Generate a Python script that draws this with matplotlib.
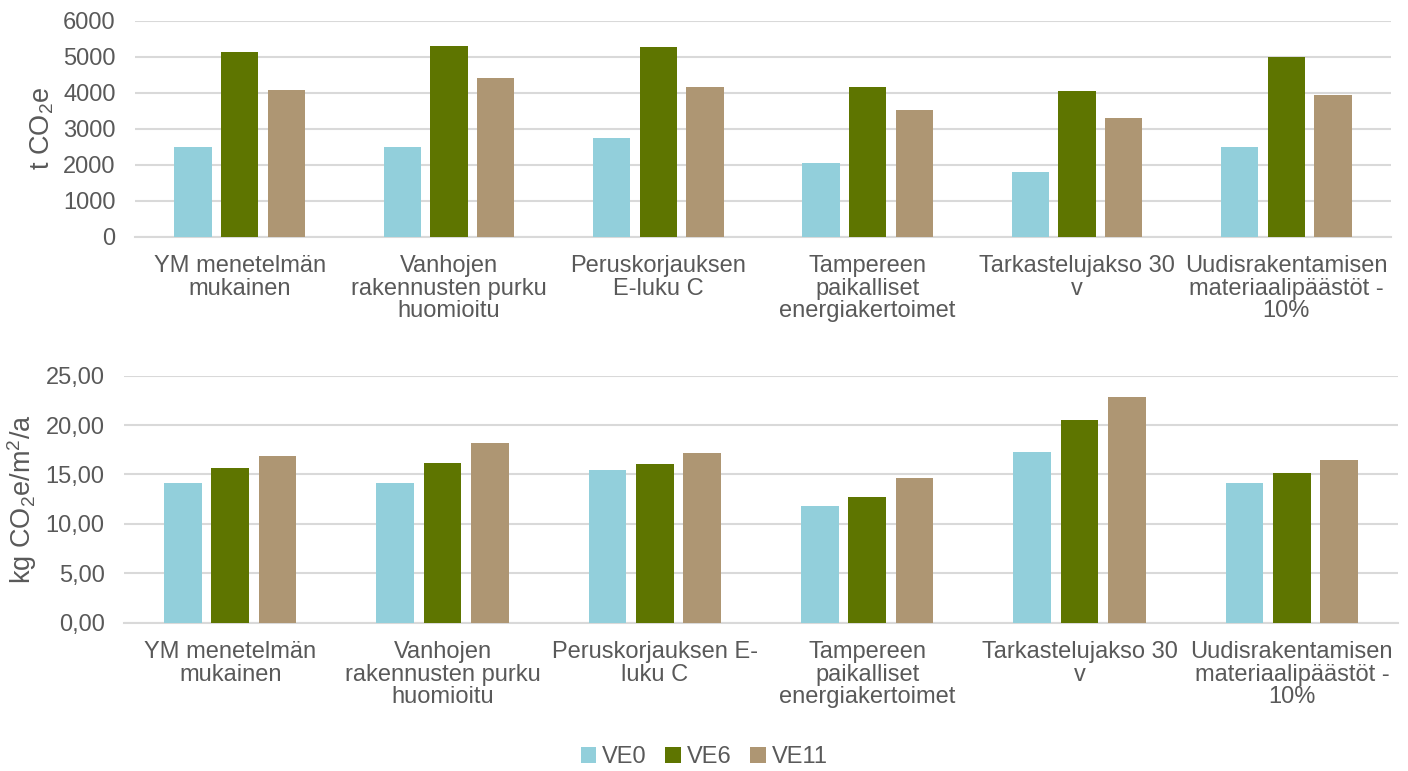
import matplotlib.pyplot as plt
import numpy as np

plt.rcParams['font.family'] = ['Liberation Sans', 'DejaVu Sans']
plt.rcParams['mathtext.default'] = 'regular'

# data
series = ['VE0', 'VE6', 'VE11']
colors = ['#92CFDB', '#5E7500', '#AE9673']

cats_top = ['YM menetelmän\nmukainen', 'Vanhojen\nrakennusten purku\nhuomioitu',
            'Peruskorjauksen\nE-luku C', 'Tampereen\npaikalliset\nenergiakertoimet',
            'Tarkastelujakso 30\nv', 'Uudisrakentamisen\nmateriaalipäästöt -\n10%']
cats_bottom = ['YM menetelmän\nmukainen', 'Vanhojen\nrakennusten purku\nhuomioitu',
               'Peruskorjauksen E-\nluku C', 'Tampereen\npaikalliset\nenergiakertoimet',
               'Tarkastelujakso 30\nv', 'Uudisrakentamisen\nmateriaalipäästöt -\n10%']

top_ve0 = [2490, 2490, 2730, 2060, 1810, 2490]
top_ve6 = [5120, 5290, 5280, 4150, 4040, 4980]
top_ve11 = [4070, 4400, 4150, 3530, 3310, 3930]

bot_ve0 = [14.18, 14.18, 15.50, 11.83, 17.32, 14.18]
bot_ve6 = [15.63, 16.14, 16.07, 12.70, 20.55, 15.16]
bot_ve11 = [16.91, 18.23, 17.15, 14.66, 22.88, 16.44]

grey = '#595959'
gridc = '#D9D9D9'
fs = 17

fig = plt.figure(figsize=(14.08, 7.71), dpi=100)
ax1 = fig.add_axes([0.0959, 0.693, 0.892, 0.2802])
ax2 = fig.add_axes([0.0881, 0.1924, 0.9048, 0.3203])


def draw(ax, cats, vals, ymax, step, fmt, ylabel, lx):
    x = np.arange(len(cats))
    w = 0.177
    off = 0.223
    for i, (v, c, s) in enumerate(zip(vals, colors, series)):
        ax.bar(x + (i - 1) * off, v, width=w, color=c, label=s, zorder=3)
    ax.set_xlim(-0.5, len(cats) - 0.5)
    ax.set_ylim(0, ymax)
    ticks = np.arange(0, ymax + step / 2, step)
    ax.set_yticks(ticks)
    ax.set_yticklabels([fmt(t) for t in ticks])
    ax.set_xticks(x)
    ax.set_xticklabels(cats, fontsize=fs, color=grey, linespacing=1.05)
    ax.tick_params(axis='both', length=0, labelsize=fs, labelcolor=grey)
    ax.tick_params(axis='y', pad=14)
    ax.tick_params(axis='x', pad=13)
    ax.grid(axis='y', color=gridc, linewidth=1.5, zorder=0)
    for sp in ['top', 'right', 'left']:
        ax.spines[sp].set_visible(False)
    ax.spines['bottom'].set_color(gridc)
    ax.spines['bottom'].set_linewidth(1.5)
    ax.set_ylabel(ylabel, fontsize=19.5, color=grey)
    ax.yaxis.set_label_coords(lx, 0.5)


draw(ax1, cats_top, [top_ve0, top_ve6, top_ve11], 6000, 1000,
     lambda t: f'{int(t)}', r't CO$_2$e', -0.063)
draw(ax2, cats_bottom, [bot_ve0, bot_ve6, bot_ve11], 25, 5,
     lambda t: f'{t:.2f}'.replace('.', ','), r'kg CO$_2$e/m$^2$/a', -0.067)

handles, labels = ax1.get_legend_handles_labels()
fig.legend(handles, labels, loc='center', bbox_to_anchor=(0.5, 1 - 757 / 771),
           ncol=3, frameon=False, fontsize=fs, labelcolor=grey,
           handlelength=0.65, handleheight=0.65, handletextpad=0.25,
           columnspacing=0.8)

fig.savefig('out.png', dpi=100)
